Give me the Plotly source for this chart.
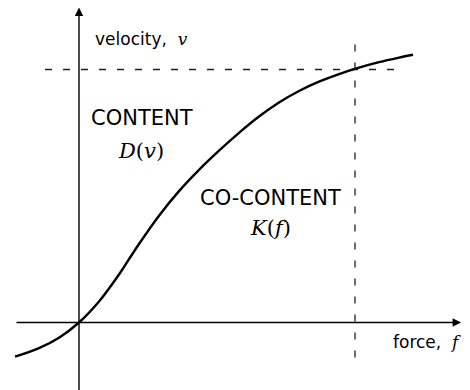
import plotly.graph_objects as go

# characteristic curve v(f)
force = [-0.64, -0.4, -0.2, 0.0, 0.2, 0.4, 0.5, 0.6, 0.8, 1.0, 1.2, 1.4, 1.6, 1.8,
         2.0, 2.2, 2.4, 2.6, 2.8, 3.0, 3.2, 3.34]
velocity = [-0.342, -0.256, -0.152, 0.0, 0.21, 0.48, 0.633, 0.785, 1.068, 1.314, 1.527, 1.719, 1.897, 2.06,
            2.2, 2.315, 2.408, 2.484, 2.548, 2.603, 2.649, 2.678]

# operating point and extent of the guide lines
f_op, v_op = 2.76, 2.53
guide_f = [-0.34, 3.19]
guide_v = [-0.35, 2.85]

# axis extents
f_axis = [-0.64, 3.82]
v_axis = [-0.75, 3.15]

serif = "DejaVu Serif"
sans = "DejaVu Sans"

fig = go.Figure()

# guide lines through the operating point
fig.add_trace(go.Scatter(x=guide_f, y=[v_op, v_op], mode="lines",
                         line=dict(color="#222", width=1.3, dash="7px,11px"), hoverinfo="skip"))
fig.add_trace(go.Scatter(x=[f_op, f_op], y=guide_v, mode="lines",
                         line=dict(color="#222", width=1.3, dash="7px,11px"), hoverinfo="skip"))

# the curve
fig.add_trace(go.Scatter(x=force, y=velocity, mode="lines",
                         line=dict(color="black", width=2.4, shape="spline", smoothing=1.0),
                         hoverinfo="skip"))

# axes with arrow heads
fig.add_annotation(x=f_axis[1], y=0, ax=f_axis[0], ay=0, xref="x", yref="y", axref="x", ayref="y",
                   showarrow=True, arrowhead=2, arrowsize=1.2, arrowwidth=1.4, arrowcolor="black", text="")
fig.add_annotation(x=0, y=v_axis[1], ax=0, ay=v_axis[0], xref="x", yref="y", axref="x", ayref="y",
                   showarrow=True, arrowhead=2, arrowsize=1.2, arrowwidth=1.4, arrowcolor="black", text="")

def label(x, y, text, size):
    fig.add_annotation(x=x, y=y, text=text, showarrow=False, xref="x", yref="y",
                       font=dict(family=sans, size=size, color="black"))

def mi(s):
    return f'<span style="font-family:{serif}"><i>{s}</i></span>'

def paren(s):
    return f'<span style="font-family:{serif}">{s}</span>'

label(0.62, 2.835, "velocity,  " + mi("v"), 17)
label(3.48, -0.195, "force,  " + mi("f"), 17)
label(0.63, 2.045, "CONTENT", 21)
label(0.62, 1.72, mi("D") + paren("(") + mi("v") + paren(")"), 21)
label(1.91, 1.245, "CO-CONTENT", 21)
label(1.91, 0.945, mi("K") + paren("(") + mi("f") + paren(")"), 21)

# page body adds an 8px offset, so ranges are shifted accordingly
fig.update_layout(
    width=470, height=390,
    margin=dict(l=0, r=0, t=0, b=0),
    plot_bgcolor="white", paper_bgcolor="white",
    showlegend=False,
    xaxis=dict(range=[-0.71, 3.99], visible=False),
    yaxis=dict(range=[-0.755, 3.145], visible=False),
)

fig.write_html("out.html")
